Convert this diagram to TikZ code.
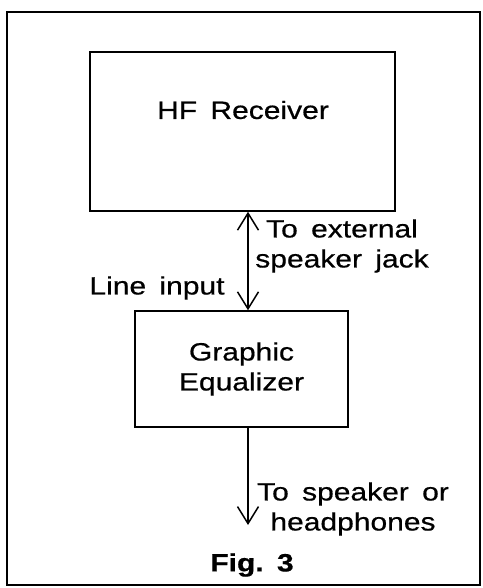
\documentclass[tikz,border=0pt]{standalone}
\usepackage{fontspec}
\setmainfont[FakeStretch=1.2, WordSpace=1.6, FakeBold=0.6]{Liberation Sans}
\usetikzlibrary{arrows.meta}

\tikzstyle{block} = [draw, line width=1.5pt, inner sep=0pt]
\tikzstyle{txt} = [font=\fontsize{25}{30}\selectfont, align=center, inner sep=0pt]
\tikzstyle{wire} = [line width=1.5pt]

\begin{document}
\begin{tikzpicture}[x=1pt, y=-1pt, >={Straight Barb[length=17pt,width=21pt,line width=1.5pt]}]
\useasboundingbox (0,0) rectangle (482,588);
\draw[line width=2pt] (7,12) rectangle (480,585);

\node[block, minimum width=305pt, minimum height=159pt] (hf) at (242.5,131.5) {};
\node[txt] (hftext) at (243,110) {HF Receiver};

\node[block, minimum width=213pt, minimum height=116pt, txt] (eq) at (241.5,369) {Graphic\\Equalizer};

\coordinate (ax) at (248,0);
\coordinate (out) at (248,525);

\draw[wire, <->] (hf.south -| ax) -- (eq.north -| ax);
\draw[wire, ->] (eq.south -| out) -- (out);

\node[txt] (ext) at (342,246) {To external\\speaker jack};
\node[txt] (line) at (157,288) {Line input};
\node[txt] (spk) at (353,509) {To speaker or\\headphones};
\node[txt, font=\fontsize{25}{30}\selectfont\bfseries] (fig) at (252,565) {Fig.~3};
\end{tikzpicture}
\end{document}
